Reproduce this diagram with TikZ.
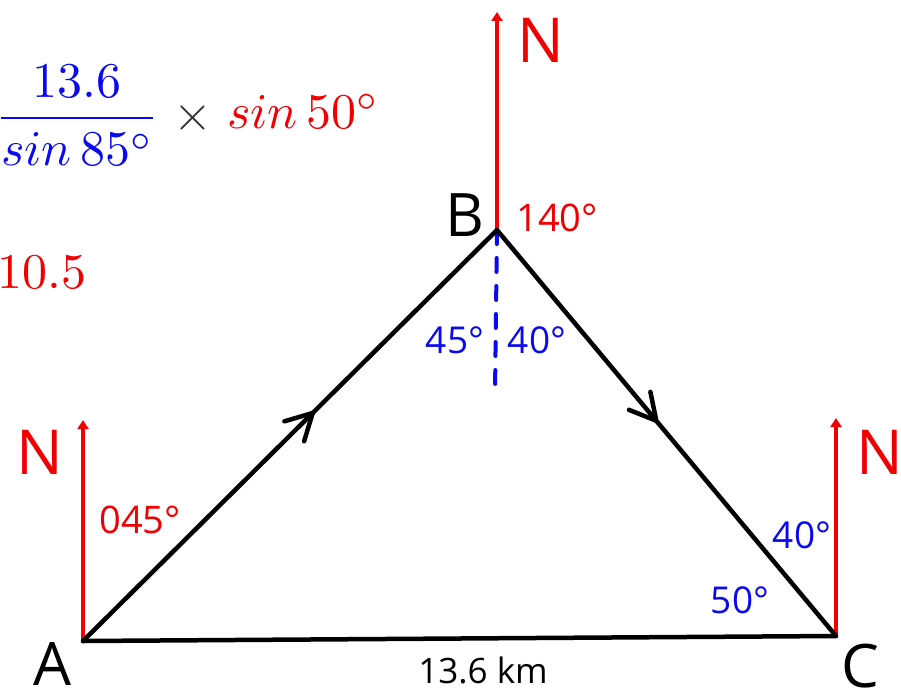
\documentclass[tikz,border=0pt]{standalone}
\usepackage{amsmath}
\usepackage{graphicx}
\usepackage{fontspec}
\newfontfamily\lab{Open Sans}
\usetikzlibrary{arrows.meta,decorations.markings}
\definecolor{nred}{RGB}{240,0,0}
\definecolor{nblue}{RGB}{10,10,240}
\tikzset{
  side/.style={line width=4.5pt,line cap=round,line join=round},
  north/.style={nred,line width=3.5pt,-{Stealth[length=9pt,width=11pt,inset=0pt]}},
  nlab/.style={nred,font=\lab\fontsize{62}{62}\selectfont},
  vlab/.style={font=\lab\fontsize{60}{60}\selectfont},
  redang/.style={nred,font=\lab\fontsize{38}{38}\selectfont},
  blueang/.style={nblue,font=\lab\fontsize{37}{37}\selectfont},
  mathlab/.style={inner sep=0pt},
  chev/.style={decoration={markings,mark=at position #1 with {\draw[black,line width=4.5pt,line cap=round,line join=round] (-26pt,14pt) -- (0pt,0pt) -- (-26pt,-14pt);}},postaction={decorate}}
}
\begin{document}
\begin{tikzpicture}[x=1pt,y=-1pt]
\useasboundingbox (0,0) rectangle (901,693);
% points
\coordinate (A) at (83,641);
\coordinate (B) at (497,230);
\coordinate (C) at (836,636);
\coordinate (NA) at (83,420);
\coordinate (NB) at (497,12);
\coordinate (NC) at (836,418);
\coordinate (Dend) at (495,392);
% north lines
\draw[north] (A) -- (NA);
\draw[north] (B) -- (NB);
\draw[north] (C) -- (NC);
% dashed line
\draw[nblue,line width=4pt,line cap=round,dash pattern=on 14pt off 14pt] (B) -- (Dend);
% triangle
\draw[side,chev=0.555] (A) -- (B);
\draw[side,chev=0.47] (B) -- (C);
\draw[side] (A) -- (C);
% labels
\node[nlab] (nA) at (40,452) {N};
\node[nlab] (nB) at (541,40) {N};
\node[nlab] (nC) at (880,452) {N};
\node[vlab] (lA) at (52,664) {A};
\node[vlab] (lB) at (465,215) {B};
\node[vlab] (lC) at (860,666) {C};
\node[redang] (a140) at (557,218) {140°};
\node[redang] (a045) at (140,520) {045°};
\node[blueang] (a45) at (455,340) {45°};
\node[blueang] (a40b) at (537,340) {40°};
\node[blueang] (a40c) at (802,535) {40°};
\node[blueang] (a50) at (740,600) {50°};
\node[font=\lab\fontsize{35}{35}\selectfont] (dist) at (483,670) {13.6 km};
% formula
\node[mathlab,nblue] (frac) at (77,115) {\scalebox{5}{$\dfrac{13.6}{sin\,85^\circ}$}};
\node[mathlab,black!80] (times) at (193,118) {\scalebox{5}{$\times$}};
\node[mathlab,nred] (s50) at (303,111) {\scalebox{5}{$sin\,50^\circ$}};
\node[mathlab,nred] (res) at (42,272) {\scalebox{5}{$10.5$}};
\end{tikzpicture}
\end{document}
